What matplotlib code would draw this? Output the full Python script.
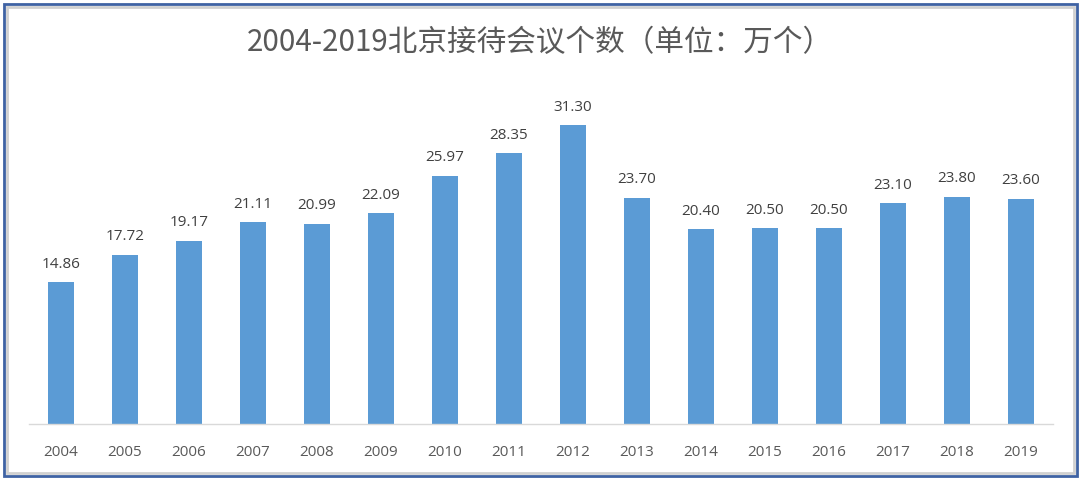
import matplotlib
matplotlib.use("Agg")
import matplotlib.pyplot as plt
from matplotlib.patches import Rectangle

years = ["2004", "2005", "2006", "2007", "2008", "2009", "2010", "2011",
         "2012", "2013", "2014", "2015", "2016", "2017", "2018", "2019"]
values = [14.86, 17.72, 19.17, 21.11, 20.99, 22.09, 25.97, 28.35,
          31.30, 23.70, 20.40, 20.50, 20.50, 23.10, 23.80, 23.60]
title = "2004-2019北京接待会议个数（单位：万个）"

plt.rcParams['font.family'] = ['Open Sans', 'Noto Sans CJK SC', 'DejaVu Sans']

W, H = 1080, 479
fig = plt.figure(figsize=(W / 100, H / 100), dpi=100)
fig.patch.set_facecolor("white")

# axes: left 29px, right 1053px, bottom 424px (from top); ylim 0..35 -> top at ~90px
left, right, bottom, top = 29, 1053, 424, 424 - 35 * 9.55
ax = fig.add_axes([left / W, 1 - bottom / H, (right - left) / W, (bottom - top) / H])
x = list(range(len(years)))
ax.bar(x, values, width=0.41, color="#5b9bd5", zorder=2)
ax.set_xlim(-0.5, len(years) - 0.5)
ax.set_ylim(0, 35)
for xi, v in zip(x, values):
    ax.text(xi, v + 1.1, f"{v:.2f}", ha="center", va="bottom",
            fontsize=11, color="#404040")
ax.set_xticks(x)
ax.set_xticklabels(years, fontsize=11, color="#595959")
ax.tick_params(axis="x", length=0, pad=15)
ax.set_yticks([])
for s in ["top", "right", "left"]:
    ax.spines[s].set_visible(False)
ax.spines["bottom"].set_color("#d9d9d9")
ax.spines["bottom"].set_linewidth(1.0)

fig.text(540 / W, 1 - 43 / H, title, ha="center", va="center",
         fontsize=21.3, color="#595959",
         family=['Noto Sans CJK SC', 'DejaVu Sans'])

# frame
fig.patches.append(Rectangle((6.5 / W, 6.5 / H), (W - 13) / W, (H - 13) / H,
                             transform=fig.transFigure, fill=False,
                             edgecolor="#d0d0d0", linewidth=2.0))
fig.patches.append(Rectangle((3.5 / W, 3.5 / H), (W - 7) / W, (H - 7) / H,
                             transform=fig.transFigure, fill=False,
                             edgecolor="#3f62a3", linewidth=2.0))

fig.savefig("out.png", dpi=100, facecolor="white")
